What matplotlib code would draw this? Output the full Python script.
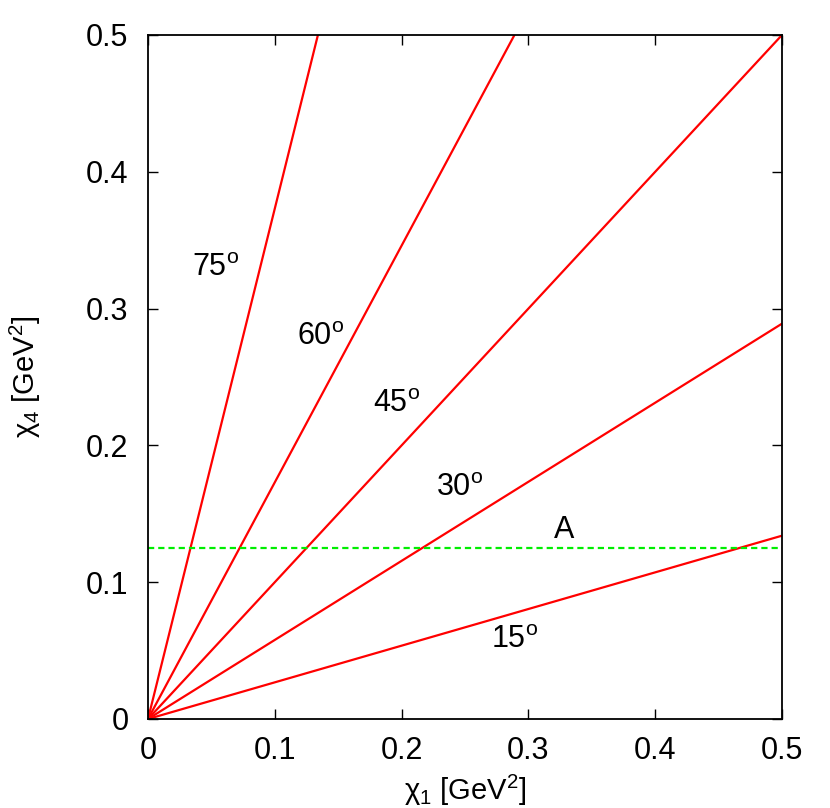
import matplotlib
matplotlib.use("Agg")
import matplotlib.pyplot as plt
from matplotlib.ticker import FuncFormatter

plt.rcParams['font.family'] = ['Liberation Sans', 'DejaVu Sans']
plt.rcParams['mathtext.fontset'] = 'custom'
plt.rcParams['mathtext.rm'] = 'Liberation Sans'
plt.rcParams['mathtext.it'] = 'Liberation Sans:italic'

# straight lines from the origin, end points
angle_labels = ['15', '30', '45', '60', '75']
x_end = [0.5, 0.5, 0.5, 0.289, 0.134]
y_end = [0.134, 0.289, 0.5, 0.5, 0.5]
label_x = [0.289, 0.246, 0.196, 0.136, 0.053]
label_y = [0.058, 0.169, 0.230, 0.279, 0.330]

line_A_y = 0.125
A_label_pos = (0.328, 0.138)

ticks = [0, 0.1, 0.2, 0.3, 0.4, 0.5]

fs = 22

fig = plt.figure(figsize=(8.3, 8.08), dpi=100)
ax = fig.add_axes([148/830, 1-719/808, (782-148)/830, (719-35)/808])

for xe, ye in zip(x_end, y_end):
    ax.plot([0, xe], [0, ye], color='#ff0000', lw=1.6, solid_capstyle='butt')
ax.plot([0, 0.5], [line_A_y, line_A_y], color='#00ee00', lw=1.6, dashes=(2.8, 1.8))

for lab, lx, ly in zip(angle_labels, label_x, label_y):
    ax.text(lx, ly, lab + r'$^{\rm o}$', fontsize=fs, ha='center', va='center')
ax.text(A_label_pos[0], A_label_pos[1], 'A', fontsize=fs, ha='center', va='center')

ax.set_xlim(0, 0.5)
ax.set_ylim(0, 0.5)
ax.set_xticks(ticks)
ax.set_yticks(ticks)
fmt = FuncFormatter(lambda v, p: '0' if abs(v) < 1e-9 else '%.1f' % v)
ax.xaxis.set_major_formatter(fmt)
ax.yaxis.set_major_formatter(fmt)
ax.tick_params(direction='in', length=7, width=1, labelsize=fs,
               top=True, right=True)
ax.tick_params(axis='x', pad=12)
ax.tick_params(axis='y', pad=14)
for s in ax.spines.values():
    s.set_linewidth(1.3)

ax.set_xlabel('χ$_1$ [GeV$^2$]', fontsize=21)
ax.set_ylabel('χ$_4$ [GeV$^2$]', fontsize=21)
ax.xaxis.set_label_coords(0.5, (719-790)/684, transform=ax.transAxes)
ax.yaxis.set_label_coords((25-148)/634, 0.5, transform=ax.transAxes)
ax.xaxis.label.set_va('center')
ax.yaxis.label.set_va('center')

fig.savefig('out.png', dpi=100)
